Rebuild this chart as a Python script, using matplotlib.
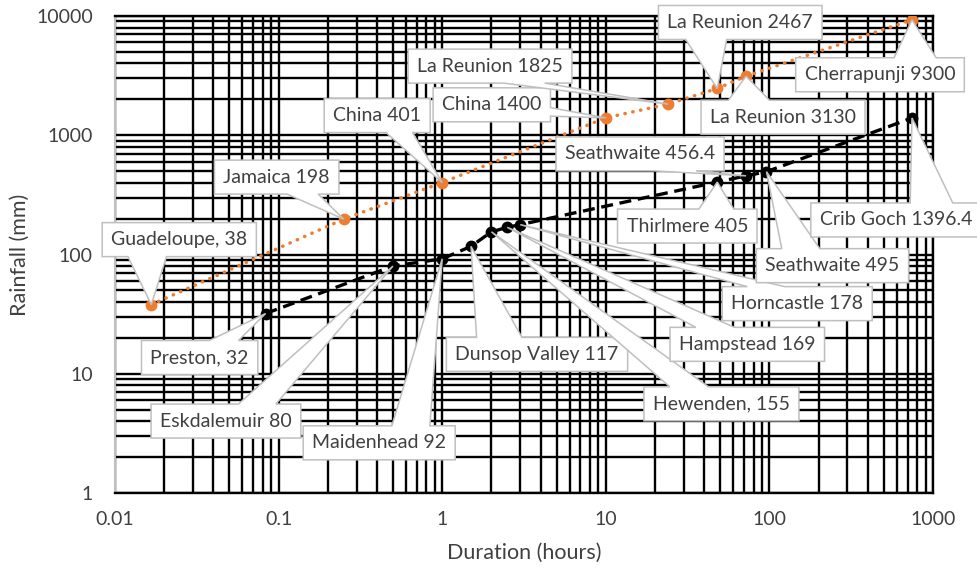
import matplotlib
matplotlib.use("Agg")
import matplotlib.pyplot as plt
from matplotlib.patches import Polygon
from matplotlib.transforms import IdentityTransform
from matplotlib.ticker import LogLocator, NullFormatter

# world record point rainfalls
world_names = ["Guadeloupe,", "Jamaica", "China", "China", "La Reunion",
               "La Reunion", "La Reunion", "Cherrapunji"]
world_hours = [1 / 60, 0.25, 1, 10, 24, 48, 72, 744]
world_mm = [38, 198, 401, 1400, 1825, 2467, 3130, 9300]

# UK record point rainfalls
uk_names = ["Preston,", "Eskdalemuir", "Maidenhead", "Dunsop Valley", "Hewenden,",
            "Hampstead", "Horncastle", "Thirlmere", "Seathwaite", "Seathwaite",
            "Crib Goch"]
uk_hours = [1 / 12, 0.5, 1, 1.5, 2, 2.5, 3, 48, 72, 96, 744]
uk_mm = [32, 80, 92, 117, 155, 169, 178, 405, 456.4, 495, 1396.4]

# where each label box sits relative to its point, pixels (right, down)
world_offsets = [(28, -65), (-67, -42), (-65, -67), (-114, -13), (-178, -38),
                 (23, -66), (37, 41), (-32, 55)]
uk_offsets = [(-66, 44), (-167, 155), (-63, 184), (66, 108), (230, 172),
              (240, 117), (277, 79), (-30, 44), (-106, -22), (66, 94), (-16, 102)]

x_ticks = [0.01, 0.1, 1, 10, 100, 1000]
x_ticklabels = ["0.01", "0.1", "1", "10", "100", "1000"]
y_ticks = [1, 10, 100, 1000, 10000]
y_ticklabels = ["1", "10", "100", "1000", "10000"]

FONT = "Lato"
TEXT_COLOR = "#404040"
ORANGE = "#ED7D31"
BOX_EDGE = "#BFBFBF"
BOX_H = 34
PAD_X = 9

plt.rcParams["font.family"] = [FONT, "DejaVu Sans"]

fig = plt.figure(figsize=(9.78, 5.71), dpi=100)
ax = fig.add_axes([115 / 978, 1 - 493 / 571, 818 / 978, 477 / 571])
ax.set_xscale("log")
ax.set_yscale("log")
ax.set_xlim(0.01, 1000)
ax.set_ylim(1, 10000)

ax.xaxis.set_minor_locator(LogLocator(base=10, subs=range(2, 10), numticks=20))
ax.yaxis.set_minor_locator(LogLocator(base=10, subs=range(2, 10), numticks=20))
ax.xaxis.set_minor_formatter(NullFormatter())
ax.yaxis.set_minor_formatter(NullFormatter())
ax.set_xticks(x_ticks)
ax.set_xticklabels(x_ticklabels)
ax.set_yticks(y_ticks)
ax.set_yticklabels(y_ticklabels)
ax.tick_params(which="both", length=0)
ax.tick_params(axis="x", pad=13, labelsize=14, labelcolor=TEXT_COLOR)
ax.tick_params(axis="y", pad=16, labelsize=14, labelcolor=TEXT_COLOR)
ax.grid(True, which="both", color="black", linewidth=1.7)
ax.set_axisbelow(True)

for side in ["top", "right", "bottom"]:
    ax.spines[side].set_color("black")
    ax.spines[side].set_linewidth(1.7)
ax.spines["left"].set_color("#BFBFBF")
ax.spines["left"].set_linewidth(1.5)

ax.set_xlabel("Duration (hours)", fontsize=15.5, color=TEXT_COLOR)
ax.set_ylabel("Rainfall (mm)", fontsize=15.5, color=TEXT_COLOR)
ax.xaxis.set_label_coords(0.5, -0.105)
ax.yaxis.set_label_coords(-0.104, 0.5)

ax.plot(world_hours, world_mm, color=ORANGE, linestyle=(0, (0.1, 2.2)),
        linewidth=2.5, dash_capstyle="round", marker="o", markersize=8.5,
        markeredgewidth=0, zorder=3)
ax.plot(uk_hours, uk_mm, color="black", linestyle=(0, (3.6, 2.0)),
        linewidth=2.4, marker="o", markersize=8.5, markeredgewidth=0, zorder=3)

renderer = fig.canvas.get_renderer()


def callout(x, y, text, offset):
    px, py = ax.transData.transform((x, y))
    cx, cy = px + offset[0], py - offset[1]
    t = fig.text(cx, cy, text, transform=IdentityTransform(), ha="center",
                 va="center", fontsize=14, color=TEXT_COLOR, zorder=6)
    bb = t.get_window_extent(renderer)
    w = bb.width + 2 * PAD_X
    h = BOX_H
    l, r = cx - w / 2, cx + w / 2
    b, top = cy - h / 2, cy + h / 2

    # rectangle callout: the wedge leaves the side facing the point
    dxn = (px - cx) / w
    dyn = (py - cy) / h
    inside = abs(dxn) <= 0.5 and abs(dyn) <= 0.5
    if abs(dyn) >= abs(dxn):
        side = "top" if dyn > 0 else "bottom"
    else:
        side = "right" if dxn > 0 else "left"
    if px > cx:
        x1, x2 = l + w * 7 / 12, l + w * 10 / 12
    else:
        x1, x2 = l + w * 2 / 12, l + w * 5 / 12
    if py < cy:
        y1, y2 = top - h * 10 / 12, top - h * 7 / 12
    else:
        y1, y2 = top - h * 5 / 12, top - h * 2 / 12

    pts = [(l, b)]
    if not inside and side == "bottom":
        pts += [(x1, b), (px, py), (x2, b)]
    pts.append((r, b))
    if not inside and side == "right":
        pts += [(r, y1), (px, py), (r, y2)]
    pts.append((r, top))
    if not inside and side == "top":
        pts += [(x2, top), (px, py), (x1, top)]
    pts.append((l, top))
    if not inside and side == "left":
        pts += [(l, y2), (px, py), (l, y1)]

    fig.add_artist(Polygon(pts, closed=True, transform=IdentityTransform(),
                           facecolor="white", edgecolor=BOX_EDGE,
                           linewidth=1.1, zorder=5))


for name, hrs, mm, off in zip(world_names, world_hours, world_mm, world_offsets):
    callout(hrs, mm, f"{name} {mm:g}", off)
for name, hrs, mm, off in zip(uk_names, uk_hours, uk_mm, uk_offsets):
    callout(hrs, mm, f"{name} {mm:g}", off)

fig.savefig("out.png", dpi=100)
